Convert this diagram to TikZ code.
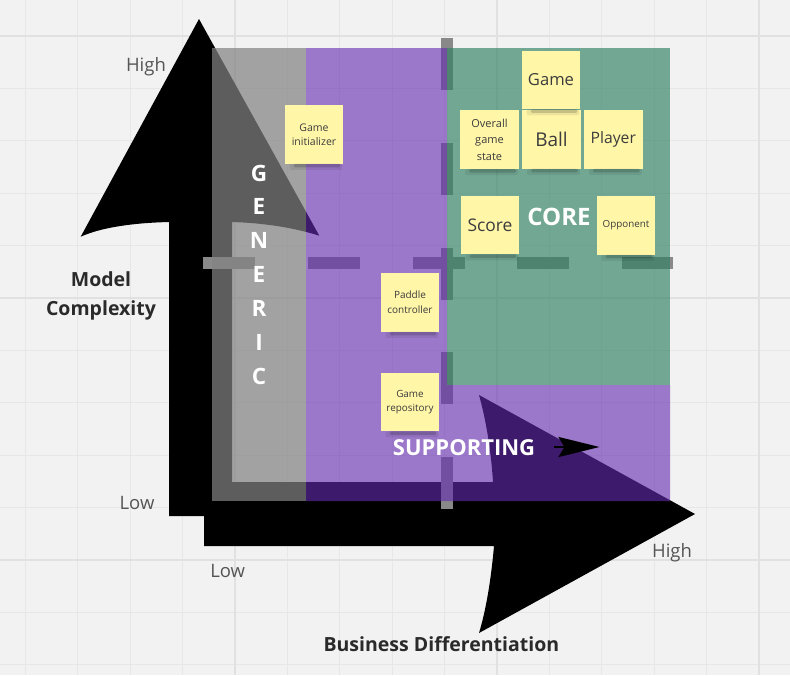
\documentclass[tikz,border=0pt]{standalone}
\usepackage{fontspec}
\setmainfont{Open Sans}
\usetikzlibrary{arrows.meta}

\definecolor{canvas}{HTML}{F2F2F2}
\definecolor{gridminor}{HTML}{E7E7E7}
\definecolor{gridmajor}{HTML}{E1E1E1}
\definecolor{genericfill}{HTML}{838383}
\definecolor{supportfill}{HTML}{642BAF}
\definecolor{corefill}{HTML}{2F8163}
\definecolor{dashgray}{HTML}{898989}
\definecolor{stickyfill}{HTML}{FFF6A8}
\definecolor{stickytext}{HTML}{3C3C3C}
\definecolor{labtext}{HTML}{2A2A2A}
\definecolor{valtext}{HTML}{555555}

\tikzset{
  minorline/.style={draw=gridminor, line width=1pt},
  majorline/.style={draw=gridmajor, line width=2pt},
  bigarrow/.style={fill=black, draw=none},
  dashbar/.style={draw=dashgray, line width=12pt, dash pattern=on 52pt off 52.75pt},
  sticky/.style={fill=stickyfill, minimum width=58.5pt, minimum height=58.5pt,
    inner sep=1pt, align=center, text=stickytext},
  shadowdark/.style={fill=black, fill opacity=0.16},
  shadowsoft/.style={fill=black, fill opacity=0.07},
  lab/.style={font=\fontsize{19.5}{24}\selectfont\bfseries, text=labtext, inner sep=0pt},
  axisval/.style={font=\fontsize{18.5}{22}\selectfont, text=valtext, inner sep=0pt},
  zone/.style={text=white, inner sep=0pt},
}

\begin{document}
\begin{tikzpicture}[x=1pt,y=-1pt]
\useasboundingbox (0,0) rectangle (790,675);
\fill[canvas] (0,0) rectangle (790,675);

% board grid
\foreach \k in {0,...,14}{
  \pgfmathsetmacro\gx{25.4+52.4*\k}
  \draw[minorline] (\gx,0) -- (\gx,675);
}
\foreach \k in {0,...,12}{
  \pgfmathsetmacro\gy{36+52.4*\k}
  \draw[minorline] (0,\gy) -- (790,\gy);
}
\foreach \gx in {235,497,759} \draw[majorline] (\gx,0) -- (\gx,675);
\foreach \gy in {36,298,560} \draw[majorline] (0,\gy) -- (790,\gy);

% vertical axis arrow (model complexity)
\fill[bigarrow] (169,516) -- (169,222)
  .. controls (130,223) and (100,228) .. (80.7,236.7)
  -- (199,19) -- (319.3,235.7)
  .. controls (295,228) and (265,223) .. (232,222)
  -- (232,516) -- cycle;

% horizontal axis arrow (business differentiation)
\fill[bigarrow] (204,482) -- (493,482)
  .. controls (491,450) and (486,420) .. (479,395)
  -- (695,514) -- (479,633)
  .. controls (486,610) and (491,580) .. (494,546)
  -- (204,546) -- cycle;

% quadrant markers
\coordinate (vtop) at (447,38);
\coordinate (vbot) at (447,509);
\coordinate (hleft) at (203,263);
\coordinate (hright) at (673,263);
\draw[dashbar] (vtop) -- (vbot);
\draw[dashbar] (hleft) -- (hright);

% domain zones
\fill[genericfill, fill opacity=0.715] (212,48) rectangle (306,501);
\fill[supportfill, fill opacity=0.61] (306,48) -- (447,48) -- (447,385)
  -- (670,385) -- (670,501) -- (306,501) -- cycle;
\fill[corefill, fill opacity=0.657] (447,48) rectangle (670,385);

% sticky notes
\node[sticky, font=\fontsize{10.5}{14}\selectfont] (gi) at (314,134.5) {Game\\initializer};
\node[sticky, font=\fontsize{16.6}{20}\selectfont] (gm) at (551,80) {Game};
\node[sticky, font=\fontsize{11}{16.3}\selectfont] (ov) at (489.5,139.7) {Overall\\game\\state};
\node[sticky, font=\fontsize{19}{22}\selectfont] (ba) at (551.5,139.5) {Ball};
\node[sticky, font=\fontsize{15.7}{19}\selectfont] (pl) at (613.3,139.5) {Player};
\node[sticky, font=\fontsize{17.4}{21}\selectfont] (sc) at (490,225) {Score};
\node[sticky, font=\fontsize{9.8}{13}\selectfont] (op) at (626,225.5) {Opponent};
\node[sticky, font=\fontsize{10}{14.7}\selectfont] (pc) at (410,302.5) {Paddle\\controller};
\node[sticky, font=\fontsize{9.9}{13.3}\selectfont] (gr) at (410,402) {Game\\repository};

\foreach \n in {gi,gm,ov,ba,pl,sc,op,pc,gr}{
  \fill[shadowsoft, rounded corners=2pt] ([xshift=5pt]\n.south west) rectangle ([xshift=-1pt,yshift=-6pt]\n.south east);
  \fill[shadowdark, rounded corners=1.5pt] ([xshift=9pt]\n.south west) rectangle ([xshift=-3pt,yshift=-3.5pt]\n.south east);
}

% zone titles
\foreach \l [count=\i from 0] in {G,E,N,E,R,I,C}{
  \pgfmathsetmacro\ly{181+33.9*\i}
  \node[zone, font=\fontsize{22.5}{26}\selectfont\bfseries, anchor=base] (gen\i) at (259,\ly) {\l};
}
\node[zone, font=\fontsize{24}{28}\selectfont\bfseries, anchor=base] (core) at (559,225) {CORE};
\node[zone, font=\fontsize{22}{26}\selectfont\bfseries, anchor=base] (supp) at (464,455) {SUPPORTING};

% direction hint next to the supporting title
\coordinate (hintstart) at (554,447);
\coordinate (hintend) at (599.5,447);
\draw[line width=2.5pt, -{Stealth[length=41pt, width=20pt, inset=6pt]}] (hintstart) -- (hintend);

% axis texts
\node[lab, anchor=base] (mc1) at (101,286) {Model};
\node[lab, anchor=base] (mc2) at (101,315) {Complexity};
\node[lab, anchor=base] (bd) at (441.4,651.7) {Business Differentiation};
\node[axisval, anchor=base] (vhigh) at (146,71.5) {High};
\node[axisval, anchor=base] (vlow) at (137,509.3) {Low};
\node[axisval, anchor=base] (hlow) at (227.7,577.7) {Low};
\node[axisval, anchor=base] (hhigh) at (672,557.3) {High};
\end{tikzpicture}
\end{document}
